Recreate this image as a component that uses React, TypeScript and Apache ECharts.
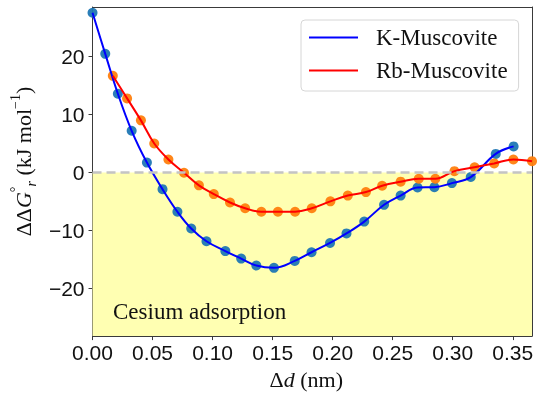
import React, { useEffect, useRef } from 'react';
import * as echarts from 'echarts';

const xTicks = [0, 0.05, 0.1, 0.15, 0.2, 0.25, 0.3, 0.35];
const yTicks = [-20, -10, 0, 10, 20];

const kX = [0, 0.0106, 0.0211, 0.0326, 0.0453, 0.0583, 0.0707, 0.0822, 0.0949, 0.1106, 0.1238, 0.1364, 0.1511, 0.1684, 0.1824, 0.1978, 0.2115, 0.2263, 0.2428, 0.2566, 0.2707, 0.2847, 0.2993, 0.315, 0.3358, 0.3507];
const kY = [27.6, 20.5, 13.6, 7.2, 1.7, -2.9, -6.8, -9.7, -11.9, -13.6, -14.9, -16.1, -16.5, -15.3, -13.8, -12.2, -10.55, -8.5, -5.6, -4.0, -2.6, -2.55, -1.85, -0.8, 3.2, 4.5];

const rbX = [0.0169, 0.0288, 0.0403, 0.0514, 0.0632, 0.0762, 0.0886, 0.101, 0.1145, 0.1271, 0.1406, 0.1544, 0.1687, 0.1826, 0.1981, 0.2126, 0.2277, 0.2412, 0.2566, 0.2717, 0.2855, 0.3014, 0.3182, 0.3345, 0.3505, 0.366];
const rbY = [16.7, 12.8, 9.0, 5.0, 2.24, -0.05, -2.24, -3.75, -5.2, -6.2, -6.8, -6.8, -6.8, -6.2, -5.0, -4.0, -3.4, -2.3, -1.6, -1.1, -1.1, 0.22, 0.9, 1.55, 2.24, 1.95];

const seriesNames = ['K-Muscovite', 'Rb-Muscovite'];
const regionLabel = 'Cesium adsorption';

const X_MIN = 0;
const X_MAX = 0.366;
const Y_MIN = -28.3;
const Y_MAX = 28.6;

const SERIF = "'Liberation Serif', 'Times New Roman', serif";
const SANS = "'Liberation Sans', Arial, sans-serif";
const AX = '#3a3a3a';

export default function App() {
  const ref = useRef<HTMLDivElement>(null);
  useEffect(() => {
    const chart = echarts.init(ref.current!, null, { renderer: 'svg' });
    const kData = kX.map((x, i) => [x, kY[i]]);
    const rbData = rbX.map((x, i) => [x, rbY[i]]);
    const frameAxis = {
      type: 'value',
      axisLine: { show: true, onZero: false, lineStyle: { color: AX, width: 1 } },
      axisTick: { show: false },
      axisLabel: { show: false },
      splitLine: { show: false },
    };
    chart.setOption({
      animation: false,
      grid: { left: 89, right: 5, top: 7, bottom: 58, containLabel: false },
      xAxis: [
        {
          type: 'value',
          min: X_MIN,
          max: X_MAX,
          position: 'bottom',
          axisLine: { show: true, onZero: false, lineStyle: { color: AX, width: 1 } },
          axisTick: { show: true, length: 4, lineStyle: { color: AX }, customValues: xTicks },
          axisLabel: {
            customValues: xTicks,
            formatter: (v: number) => v.toFixed(2),
            fontFamily: SANS,
            fontSize: 21,
            color: '#111',
            margin: 6,
          },
          splitLine: { show: false },
          name: '{a|Δ}{i|d}{a| (nm)}',
          nameLocation: 'middle',
          nameGap: 28,
          nameTextStyle: {
            padding: [0, 12, 0, 0],
            rich: {
              a: { fontFamily: SERIF, fontSize: 22, color: '#111' },
              i: { fontFamily: SERIF, fontSize: 22, fontStyle: 'italic', color: '#111' },
            },
          },
        },
        { ...frameAxis, min: X_MIN, max: X_MAX, position: 'top' },
      ],
      yAxis: [
        {
          type: 'value',
          min: Y_MIN,
          max: Y_MAX,
          position: 'left',
          axisLine: { show: true, onZero: false, lineStyle: { color: AX, width: 1 } },
          axisTick: { show: true, length: 4, lineStyle: { color: AX }, customValues: yTicks },
          axisLabel: {
            customValues: yTicks,
            formatter: (v: number) => (v < 0 ? '\u2212' + Math.abs(v) : String(v)),
            fontFamily: SANS,
            fontSize: 21,
            color: '#111',
            margin: 8,
          },
          splitLine: { show: false },
          name: '{a|ΔΔ}{g|G}{sup|°}{sub|r}{a| (kJ mol}{sup|−1}{a|)}',
          nameLocation: 'middle',
          nameGap: 50,
          nameRotate: 90,
          nameTextStyle: {
            padding: [0, 0, 0, 20],
            rich: {
              a: { fontFamily: SERIF, fontSize: 22, color: '#111', lineHeight: 30 },
              g: { fontFamily: SERIF, fontSize: 22, fontStyle: 'italic', color: '#111', lineHeight: 30 },
              sup: { fontFamily: SERIF, fontSize: 14, color: '#111', verticalAlign: 'top', lineHeight: 16 },
              sub: { fontFamily: SERIF, fontSize: 14, fontStyle: 'italic', color: '#111', verticalAlign: 'bottom', lineHeight: 16 },
            },
          },
        },
        { ...frameAxis, min: Y_MIN, max: Y_MAX, position: 'right' },
      ],
      legend: {
        data: seriesNames.map((name) => ({ name, icon: 'rect' })),
        orient: 'vertical',
        left: 301,
        top: 20,
        padding: [6, 11, 9, 8],
        itemWidth: 49,
        itemHeight: 2,
        itemGap: 10,
        selectedMode: false,
        backgroundColor: 'rgba(255,255,255,0.85)',
        borderColor: '#d6d6d6',
        borderWidth: 1,
        borderRadius: 4,
        textStyle: { fontFamily: SERIF, fontSize: 23, color: '#111', padding: [0, 0, 0, 13] },
      },
      graphic: [
        {
          type: 'text',
          left: 113,
          top: 300,
          silent: true,
          style: { text: regionLabel, fontFamily: SERIF, fontSize: 23, fill: '#111' },
          z: 10,
        },
      ],
      series: [
        {
          type: 'line',
          name: '_bg',
          data: [],
          z: 1,
          silent: true,
          markArea: {
            silent: true,
            itemStyle: { color: '#ffffb2', opacity: 1 },
            data: [[{ xAxis: X_MIN, yAxis: 0 }, { xAxis: X_MAX, yAxis: Y_MIN }]],
          },
          markLine: {
            silent: true,
            symbol: ['none', 'none'],
            label: { show: false },
            lineStyle: { color: '#c4c4c4', width: 2.5, type: [9, 5] },
            data: [{ yAxis: 0 }],
          },
        },
        {
          type: 'scatter',
          name: 'K-pts',
          data: kData,
          symbolSize: 10,
          itemStyle: { color: '#1f77b4', opacity: 0.95 },
          z: 2,
        },
        {
          type: 'scatter',
          name: 'Rb-pts',
          data: rbData,
          symbolSize: 10,
          itemStyle: { color: '#ff7f0e', opacity: 0.95 },
          z: 2,
        },
        {
          type: 'line',
          name: seriesNames[0],
          data: kData,
          smooth: 0.4,
          symbol: 'none',
          showSymbol: false,
          lineStyle: { color: '#0000ff', width: 2 },
          itemStyle: { color: '#0000ff' },
          z: 3,
        },
        {
          type: 'line',
          name: seriesNames[1],
          data: rbData,
          smooth: 0.4,
          symbol: 'none',
          showSymbol: false,
          lineStyle: { color: '#ff0000', width: 2 },
          itemStyle: { color: '#ff0000' },
          z: 3,
        },
      ],
    });
    return () => chart.dispose();
  }, []);
  return <div ref={ref} style={{ position: 'fixed', left: 0, top: 0, width: 537, height: 395 }} />;
}
